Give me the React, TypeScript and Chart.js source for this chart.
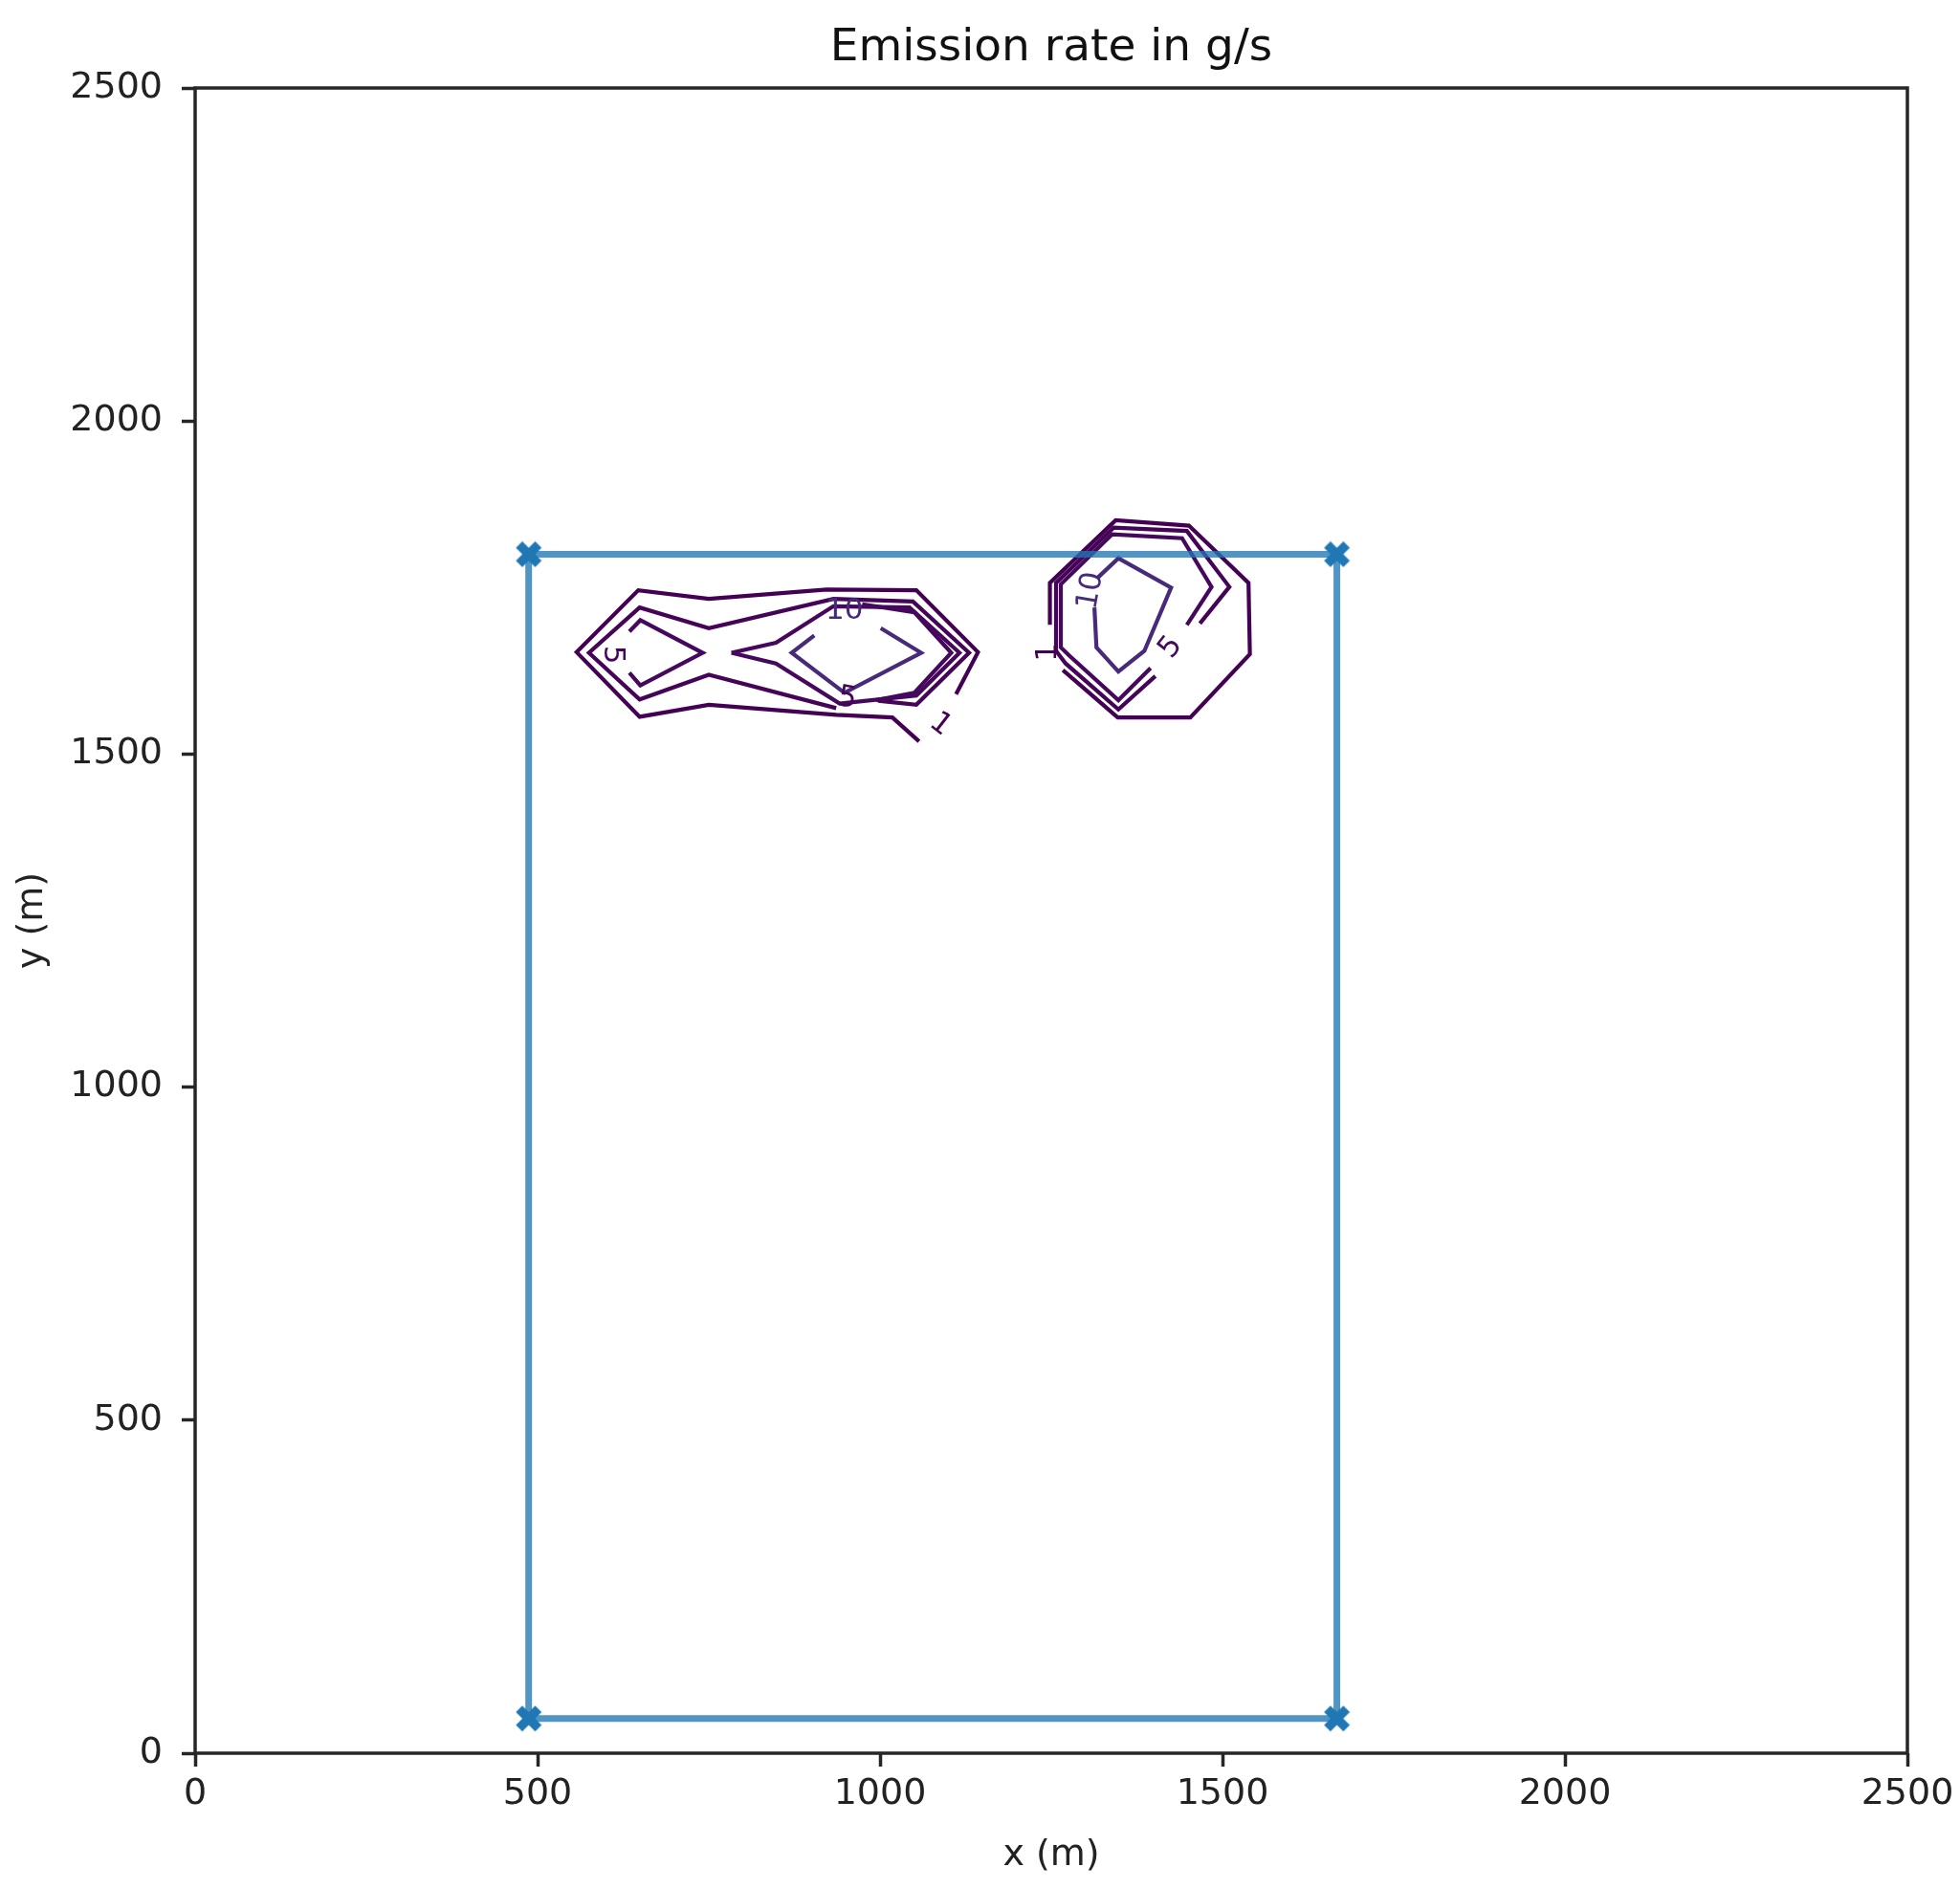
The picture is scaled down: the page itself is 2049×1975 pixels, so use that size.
import React, { useEffect, useRef } from 'react';
import { Chart, registerables } from 'chart.js';

Chart.register(...registerables);

// ---------- text ----------
const chartTitle = 'Emission rate in g/s';
const xAxisTitle = 'x (m)';
const yAxisTitle = 'y (m)';

// ---------- axes ----------
const axisMin = 0;
const axisMax = 2500;
const tickStep = 500;

// ---------- domain rectangle (blue) ----------
const domainX = [487, 1667, 1667, 487, 487];
const domainY = [1800, 1800, 52, 52, 1800];
const cornerX = [487, 1667, 1667, 487];
const cornerY = [1800, 1800, 52, 52];

// ---------- contour lines, [x, y] in metres ----------
// west cluster
const westLevel1 = [[1111, 1590], [1143, 1653], [1053, 1746], [922, 1747], [750, 1733], [647, 1746], [557, 1653], [649, 1556], [750, 1574], [936, 1559], [1018, 1555], [1057, 1519]];
const westLevel2 = [[997, 1580], [1053, 1574], [1130, 1652], [1048, 1729], [932, 1733], [750, 1689], [649, 1720], [575, 1652], [649, 1582], [750, 1619], [936, 1569]];
const westLevel5a = [[634, 1684], [650, 1701], [741, 1652], [650, 1603], [634, 1622]];
const westLevel5b = [[783, 1652], [848, 1667], [932, 1722], [1043, 1720], [1116, 1652], [1053, 1588], [941, 1576], [848, 1636], [783, 1652]];
const westLevel5c = [[994, 1581], [1050, 1592], [1104, 1652], [1050, 1713], [974, 1725]];
const westLevel10 = [[904, 1678], [871, 1652], [948, 1592], [1060, 1652], [1001, 1689]];
// east cluster
const eastLevel1 = [[1248, 1694], [1248, 1757], [1344, 1851], [1451, 1843], [1538, 1757], [1540, 1650], [1453, 1555], [1347, 1555], [1267, 1626]];
const eastLevel2 = [[1402, 1617], [1348, 1567], [1271, 1636], [1257, 1655], [1257, 1757], [1341, 1840], [1448, 1835], [1510, 1751], [1467, 1696]];
const eastLevel5 = [[1395, 1629], [1348, 1581], [1276, 1648], [1264, 1660], [1264, 1755], [1339, 1830], [1441, 1824], [1484, 1751], [1448, 1694]];
const eastLevel10 = [[1313, 1720], [1316, 1660], [1348, 1624], [1386, 1655], [1425, 1750], [1348, 1794], [1318, 1765]];

const contourLines = [westLevel1, westLevel2, westLevel5a, westLevel5b, westLevel5c, westLevel10, eastLevel1, eastLevel2, eastLevel5, eastLevel10];
const contourLevelIndex = [0, 1, 2, 2, 2, 3, 0, 1, 2, 3];
const levelColors = ['#440154', '#450457', '#46085c', '#472a7a'];

// ---------- contour labels ----------
const labelText = ['1', '5', '10', '5', '1', '5', '10'];
const labelX = [1088, 609, 948, 952, 1246, 1425, 1308];
const labelY = [1544, 1649, 1714, 1583, 1653, 1660, 1745];
const labelAngle = [38, 90, 0, 10, -90, -52, -80];
const labelLevel = [0, 2, 3, 1, 0, 2, 3];

const FONT = "'DejaVu Sans', 'Liberation Sans', sans-serif";

export default function App() {
  const ref = useRef<HTMLCanvasElement>(null);

  useEffect(() => {
    const canvas = ref.current;
    if (!canvas) return;

    // filled "X" marker like matplotlib's 'X'
    const marker = document.createElement('canvas');
    const S = 28;
    marker.width = S;
    marker.height = S;
    const m = marker.getContext('2d')!;
    const u = (S / 4) * 0.96;
    const c = S / 2;
    const xs = [[-1, -2], [0, -1], [1, -2], [2, -1], [1, 0], [2, 1], [1, 2], [0, 1], [-1, 2], [-2, 1], [-1, 0], [-2, -1]];
    m.beginPath();
    xs.forEach(([a, b], i) => {
      const px = c + a * u;
      const py = c + b * u;
      if (i === 0) m.moveTo(px, py);
      else m.lineTo(px, py);
    });
    m.closePath();
    m.fillStyle = '#1f77b4';
    m.fill();

    const spinePlugin = {
      id: 'spines',
      afterDatasetsDraw(chart: any) {
        const { ctx, chartArea } = chart;
        ctx.save();
        ctx.strokeStyle = '#262626';
        ctx.lineWidth = 3.5;
        ctx.strokeRect(chartArea.left, chartArea.top, chartArea.right - chartArea.left, chartArea.bottom - chartArea.top);
        ctx.restore();
      },
    };

    const labelPlugin = {
      id: 'contourLabels',
      afterDatasetsDraw(chart: any) {
        const { ctx } = chart;
        const sx = chart.scales.x;
        const sy = chart.scales.y;
        ctx.save();
        ctx.font = `31px ${FONT}`;
        ctx.textAlign = 'center';
        ctx.textBaseline = 'middle';
        labelText.forEach((t, i) => {
          const px = sx.getPixelForValue(labelX[i]);
          const py = sy.getPixelForValue(labelY[i]);
          ctx.save();
          ctx.translate(px, py);
          ctx.rotate((labelAngle[i] * Math.PI) / 180);
          ctx.fillStyle = levelColors[labelLevel[i]];
          ctx.fillText(t, 0, 0);
          ctx.restore();
        });
        ctx.restore();
      },
    };

    const datasets: any[] = [
      {
        label: 'corners',
        data: cornerX.map((x, i) => ({ x, y: cornerY[i] })),
        showLine: false,
        pointStyle: marker,
        pointRadius: 14,
        order: 0,
      },
      {
        label: 'domain',
        data: domainX.map((x, i) => ({ x, y: domainY[i] })),
        showLine: true,
        borderColor: 'rgba(31,119,180,0.78)',
        borderWidth: 7,
        pointRadius: 0,
        fill: false,
        order: 1,
      },
      ...contourLines.map((line, k) => ({
        label: `contour${k}`,
        data: line.map(([x, y]) => ({ x, y })),
        showLine: true,
        borderColor: levelColors[contourLevelIndex[k]],
        borderWidth: 4.2,
        pointRadius: 0,
        fill: false,
        tension: 0,
        order: 2,
      })),
    ];

    const tickFont = { family: FONT, size: 38 };

    const chart = new Chart(canvas, {
      type: 'scatter',
      data: { datasets },
      options: {
        responsive: false,
        animation: false,
        devicePixelRatio: 1,
        events: [],
        layout: { padding: { top: 0, right: 55, bottom: 0, left: 0 } },
        plugins: {
          legend: { display: false },
          tooltip: { enabled: false },
          title: {
            display: true,
            text: chartTitle,
            fullSize: false,
            color: '#111',
            font: { family: FONT, size: 47, weight: 'normal' },
            padding: { top: 23, bottom: 12.6 },
          },
        },
        scales: {
          x: {
            type: 'linear',
            position: 'bottom',
            min: axisMin,
            max: axisMax,
            ticks: {
              stepSize: tickStep,
              padding: 6,
              color: '#222',
              font: tickFont,
              maxRotation: 0,
              autoSkip: false,
              callback: (v: any) => String(v),
            },
            grid: { display: true, drawOnChartArea: false, drawTicks: true, tickLength: 14, tickWidth: 3.5, tickColor: '#262626' },
            border: { display: false },
            title: { display: true, text: xAxisTitle, color: '#222', font: tickFont, padding: { top: 0, bottom: 12 } },
            afterFit: (s: any) => {
              s.height = 142;
            },
          },
          y: {
            type: 'linear',
            position: 'left',
            min: axisMin,
            max: axisMax,
            ticks: {
              stepSize: tickStep,
              padding: 20,
              color: '#222',
              font: tickFont,
              autoSkip: false,
              callback: (v: any) => String(v),
            },
            grid: { display: true, drawOnChartArea: false, drawTicks: true, tickLength: 14, tickWidth: 3.5, tickColor: '#262626' },
            border: { display: false },
            title: { display: true, text: yAxisTitle, color: '#222', font: tickFont, padding: { top: 11, bottom: 0 } },
            afterFit: (s: any) => {
              s.width = 204;
            },
          },
        },
      } as any,
      plugins: [spinePlugin, labelPlugin],
    });

    return () => chart.destroy();
  }, []);

  return (
    <div style={{ position: 'fixed', left: 0, top: 0, width: 2049, height: 1975, background: '#fff' }}>
      <canvas ref={ref} width={2049} height={1975} style={{ width: 2049, height: 1975, display: 'block' }} />
    </div>
  );
}
